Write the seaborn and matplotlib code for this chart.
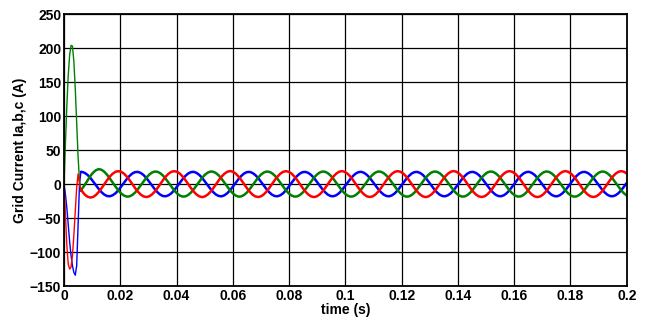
import numpy as np
import pandas as pd
import seaborn as sns
import matplotlib
matplotlib.use("Agg")
import matplotlib.pyplot as plt

# start-up transient, sampled every 0.5 ms from 0 to 6 ms
t_start_ms = [0, 0.5, 1.0, 1.5, 2.0, 2.5, 3.0, 3.5, 4.0, 4.5, 5.0, 5.5, 6.0]
ia_start = [0, -45, -90, -118, -125, -122, -105, -75, -40, -5, 15, 0, -8]
ib_start = [0, -15, -35, -60, -85, -105, -120, -130, -134, -120, -60, 0, 18]
ic_start = [0, 60, 115, 160, 190, 204, 203, 180, 140, 90, 40, 5, -10]

# steady state, read every ~1 ms (20 samples per cycle) from 6.4 ms on
steady_t0 = 0.0064
steady_dt = 0.000993

ia_steady = [
    -10.5, -15.6, -18.6, -19.8, -18.9, -15.9, -11.5, -6.0, 0.0, 5.9, 11.2, 15.4, 18.1, 19.0, 18.1, 15.4, 11.2, 5.9, 0.0, -5.9,
    -11.2, -15.4, -18.1, -19.0, -18.1, -15.4, -11.2, -5.9, 0.0, 5.9, 11.2, 15.4, 18.1, 19.0, 18.1, 15.4, 11.2, 5.9, 0.0, -5.9,
    -11.2, -15.4, -18.1, -19.2, -18.1, -15.4, -11.2, -5.9, 0.0, 5.9, 11.2, 15.4, 18.1, 19.2, 18.1, 15.4, 11.2, 5.9, 0.0, -5.9,
    -11.2, -15.4, -18.1, -19.0, -18.1, -15.4, -11.2, -5.9, 0.0, 5.9, 11.2, 15.4, 18.1, 19.0, 18.1, 15.4, 11.2, 5.9, 0.0, -5.9,
    -11.2, -15.4, -18.1, -19.1, -18.1, -15.4, -11.2, -5.9, 0.0, 5.9, 11.2, 15.4, 18.1, 19.1, 18.1, 15.4, 11.2, 5.9, 0.0, -5.9,
    -11.2, -15.4, -18.1, -19.0, -18.1, -15.4, -11.2, -5.9, 0.0, 5.9, 11.2, 15.4, 18.1, 19.0, 18.1, 15.4, 11.2, 5.9, 0.0, -5.9,
    -11.2, -15.4, -18.1, -19.2, -18.1, -15.4, -11.2, -5.9, 0.0, 5.9, 11.2, 15.4, 18.1, 19.2, 18.1, 15.4, 11.2, 5.9, 0.0, -5.9,
    -11.2, -15.4, -18.1, -19.0, -18.1, -15.4, -11.2, -5.9, 0.0, 5.9, 11.2, 15.4, 18.1, 19.0, 18.1, 15.4, 11.2, 5.9, 0.0, -5.9,
    -11.2, -15.4, -18.1, -19.1, -18.1, -15.4, -11.2, -5.9, 0.0, 5.9, 11.2, 15.4, 18.1, 19.1, 18.1, 15.4, 11.2, 5.9, 0.0, -5.9,
    -11.2, -15.4, -18.1, -19.0, -18.1, -15.4, -11.2, -5.9, 0.0, 5.9, 11.2, 15.4, 18.1, 19.0, 18.1, 15.4,
]
ib_steady = [
    17.9, 16.4, 13.4, 9.0, 3.7, -1.9, -7.3, -12.0, -15.6, -17.6, -17.9, -16.4, -13.4, -9.0, -3.7, 1.9, 7.3, 12.0, 15.6, 17.6,
    17.9, 16.4, 13.4, 9.0, 3.7, -1.9, -7.3, -12.0, -15.6, -17.6, -17.9, -16.4, -13.4, -9.0, -3.7, 1.9, 7.3, 12.0, 15.6, 17.6,
    18.0, 16.4, 13.4, 9.0, 3.7, -1.9, -7.3, -12.0, -15.6, -17.6, -18.0, -16.4, -13.4, -9.0, -3.7, 1.9, 7.3, 12.0, 15.6, 17.6,
    17.9, 16.4, 13.4, 9.0, 3.7, -1.9, -7.3, -12.0, -15.6, -17.6, -17.9, -16.4, -13.4, -9.0, -3.7, 1.9, 7.3, 12.0, 15.6, 17.6,
    17.9, 16.4, 13.4, 9.0, 3.7, -1.9, -7.3, -12.0, -15.6, -17.6, -17.9, -16.4, -13.4, -9.0, -3.7, 1.9, 7.3, 12.0, 15.6, 17.6,
    18.0, 16.4, 13.4, 9.0, 3.7, -1.9, -7.3, -12.0, -15.6, -17.6, -18.0, -16.4, -13.4, -9.0, -3.7, 1.9, 7.3, 12.0, 15.6, 17.6,
    17.9, 16.4, 13.4, 9.0, 3.7, -1.9, -7.3, -12.0, -15.6, -17.6, -17.9, -16.4, -13.4, -9.0, -3.7, 1.9, 7.3, 12.0, 15.6, 17.6,
    17.9, 16.4, 13.4, 9.0, 3.7, -1.9, -7.3, -12.0, -15.6, -17.6, -17.9, -16.4, -13.4, -9.0, -3.7, 1.9, 7.3, 12.0, 15.6, 17.6,
    18.0, 16.4, 13.4, 9.0, 3.7, -1.9, -7.3, -12.0, -15.6, -17.6, -18.0, -16.4, -13.4, -9.0, -3.7, 1.9, 7.3, 12.0, 15.6, 17.6,
    17.9, 16.4, 13.4, 9.0, 3.7, -1.9, -7.3, -12.0, -15.6, -17.6, -17.9, -16.4, -13.4, -9.0, -3.7, 1.9,
]
ic_steady = [
    -7.0, -1.0, 5.5, 12.0, 17.0, 20.5, 22.0, 21.0, 18.0, 13.5, 8.0, 2.0, -3.8, -9.3, -13.7, -16.9, -18.4, -18.1, -16.0, -12.4,
    -7.5, -1.9, 3.8, 9.3, 13.7, 16.9, 18.4, 18.1, 16.0, 12.4, 7.5, 1.9, -3.8, -9.3, -13.7, -16.9, -18.4, -18.1, -16.0, -12.4,
    -7.5, -1.9, 3.8, 9.3, 13.7, 16.9, 18.5, 18.1, 16.0, 12.4, 7.5, 1.9, -3.8, -9.3, -13.7, -16.9, -18.5, -18.1, -16.0, -12.4,
    -7.5, -1.9, 3.8, 9.3, 13.7, 16.9, 18.4, 18.1, 16.0, 12.4, 7.5, 1.9, -3.8, -9.3, -13.7, -16.9, -18.4, -18.1, -16.0, -12.4,
    -7.5, -1.9, 3.8, 9.3, 13.7, 16.9, 18.4, 18.1, 16.0, 12.4, 7.5, 1.9, -3.8, -9.3, -13.7, -16.9, -18.4, -18.1, -16.0, -12.4,
    -7.5, -1.9, 3.8, 9.3, 13.7, 16.9, 18.5, 18.1, 16.0, 12.4, 7.5, 1.9, -3.8, -9.3, -13.7, -16.9, -18.5, -18.1, -16.0, -12.4,
    -7.5, -1.9, 3.8, 9.3, 13.7, 16.9, 18.4, 18.1, 16.0, 12.4, 7.5, 1.9, -3.8, -9.3, -13.7, -16.9, -18.4, -18.1, -16.0, -12.4,
    -7.5, -1.9, 3.8, 9.3, 13.7, 16.9, 18.4, 18.1, 16.0, 12.4, 7.5, 1.9, -3.8, -9.3, -13.7, -16.9, -18.4, -18.1, -16.0, -12.4,
    -7.5, -1.9, 3.8, 9.3, 13.7, 16.9, 18.5, 18.1, 16.0, 12.4, 7.5, 1.9, -3.8, -9.3, -13.7, -16.9, -18.5, -18.1, -16.0, -12.4,
    -7.5, -1.9, 3.8, 9.3, 13.7, 16.9, 18.4, 18.1, 16.0, 12.4, 7.5, 1.9, -3.8, -9.3, -13.7, -16.9,
]

x_ticks = [0, 0.02, 0.04, 0.06, 0.08, 0.1, 0.12, 0.14, 0.16, 0.18, 0.2]
x_labels = ["0", "0.02", "0.04", "0.06", "0.08", "0.1", "0.12", "0.14", "0.16", "0.18", "0.2"]
y_ticks = [-150, -100, -50, 0, 50, 100, 150, 200, 250]

sns.set_style("white")
plt.rcParams["font.family"] = ["Liberation Sans", "DejaVu Sans"]
plt.rcParams["font.weight"] = "bold"
plt.rcParams["text.color"] = "black"
plt.rcParams["axes.labelcolor"] = "black"
plt.rcParams["xtick.color"] = "black"
plt.rcParams["ytick.color"] = "black"

t_steady = steady_t0 + np.arange(len(ia_steady)) * steady_dt
t_start = np.array(t_start_ms) / 1000.0

df_start = pd.DataFrame({"time": t_start, "ia": ia_start, "ib": ib_start, "ic": ic_start})
df_steady = pd.DataFrame({"time": t_steady, "ia": ia_steady, "ib": ib_steady, "ic": ic_steady})
# join the two parts so the lines are continuous
df_steady = pd.concat([df_start.tail(1), df_steady], ignore_index=True)

fig = plt.figure(figsize=(6.48, 3.2), dpi=100)
ax = fig.add_axes([0.0988, 0.106, 0.8684, 0.850])

colors = {"ib": "#0000ff", "ic": "#008000", "ia": "#ff0000"}
for col in ["ib", "ic", "ia"]:
    sns.lineplot(data=df_start, x="time", y=col, ax=ax, color=colors[col], lw=1.0, estimator=None, sort=False)
    sns.lineplot(data=df_steady, x="time", y=col, ax=ax, color=colors[col], lw=1.8, estimator=None, sort=False)

ax.set_xlim(0, 0.2)
ax.set_ylim(-150, 250)
ax.set_xticks(x_ticks)
ax.set_xticklabels(x_labels)
ax.set_yticks(y_ticks)
ax.grid(True, color="black", linewidth=0.9)
ax.set_axisbelow(True)
ax.tick_params(direction="in", length=3, labelsize=10, pad=2, width=0.8)
for lab in ax.get_xticklabels() + ax.get_yticklabels():
    lab.set_fontweight("bold")
for sp in ax.spines.values():
    sp.set_color("black")
    sp.set_linewidth(1.3)

ax.set_xlabel("time (s)", fontsize=10, fontweight="bold", labelpad=0)
ax.set_ylabel("Grid Current Ia,b,c (A)", fontsize=10, fontweight="bold", labelpad=2)

fig.savefig("out.png", dpi=100)
